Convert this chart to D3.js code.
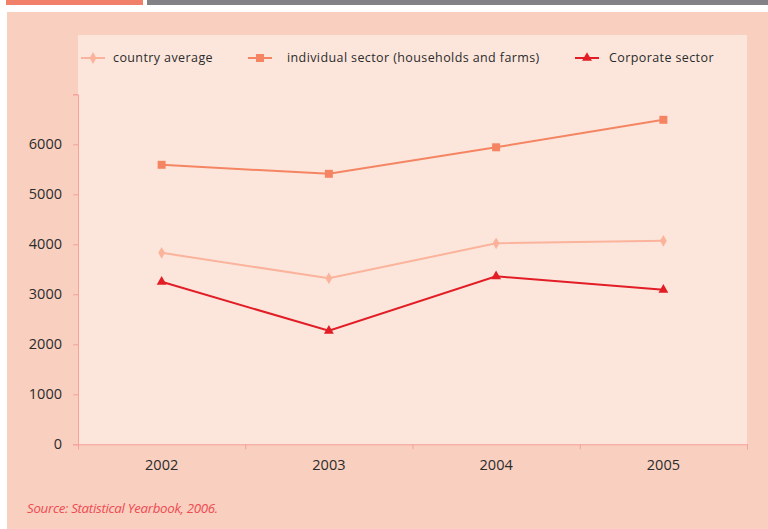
<!DOCTYPE html>
<html>
<head>
<meta charset="utf-8">
<script src="https://cdn.jsdelivr.net/npm/d3@7"></script>
<style>
  body { margin: 0; background: #fff; }
  text { font-family: "Open Sans", "Noto Sans", sans-serif; fill: #2b2b2b; }
</style>
</head>
<body>
<div id="chart"></div>
<script>
// chart values
var years = ["2002", "2003", "2004", "2005"];
var countryAverage = [3830, 3320, 4020, 4070];
var individualSector = [5590, 5410, 5940, 6490];
var corporateSector = [3250, 2270, 3360, 3090];
var yTicks = [0, 1000, 2000, 3000, 4000, 5000, 6000, 7000];
var seriesNames = ["country average", "individual sector (households and farms)", "Corporate sector"];

var width = 768, height = 529;
var margin = {top: 94.3, right: 21, bottom: 84.7, left: 78};
var w = width - margin.left - margin.right,
    h = height - margin.top - margin.bottom;

var svg = d3.select("#chart")
    .append("svg")
    .attr("width", width)
    .attr("height", height);

// top decoration bars
svg.append("rect").attr("x", 6).attr("y", 0).attr("width", 137).attr("height", 5).attr("fill", "#f08168");
svg.append("rect").attr("x", 147).attr("y", 0).attr("width", 621).attr("height", 5).attr("fill", "#828286");

// outer panel and inner plot background
svg.append("rect").attr("x", 7).attr("y", 12).attr("width", 761).attr("height", 517).attr("fill", "#f9cfbf");
svg.append("rect").attr("x", 78).attr("y", 35).attr("width", 669).attr("height", 409.3).attr("fill", "#fce6dc");

var g = svg.append("g")
    .attr("transform", "translate(" + margin.left + "," + margin.top + ")");

var x = d3.scaleBand().domain(years).range([0, w]);
var xEdge = d3.scaleLinear().domain([0, years.length]).range([0, w]);
var y = d3.scaleLinear().domain([0, 7000]).range([h, 0]);

// y axis
var yAxis = g.append("g")
    .call(d3.axisLeft(y).tickValues(yTicks).tickSize(5).tickPadding(11)
        .tickFormat(function(d) { return d === 7000 ? "" : d; }));
yAxis.selectAll("text").style("font-size", "14.5px");

// x axis: boundary ticks + centred labels
var xAxisTicks = g.append("g")
    .attr("transform", "translate(0," + h + ")")
    .call(d3.axisBottom(xEdge).tickValues(d3.range(years.length + 1)).tickSize(5).tickFormat(""));
var xAxisLabels = g.append("g")
    .attr("transform", "translate(0," + h + ")")
    .call(d3.axisBottom(x).tickSize(0).tickPadding(15));
xAxisLabels.select(".domain").remove();
xAxisLabels.selectAll("text").style("font-size", "14.5px");

svg.selectAll(".domain, .tick line").attr("stroke", "#f5a19b");

var series = [
  {name: seriesNames[0], values: countryAverage, color: "#fbb39b", shape: d3.symbolDiamond, size: 40},
  {name: seriesNames[1], values: individualSector, color: "#f58562", shape: d3.symbolSquare, size: 64},
  {name: seriesNames[2], values: corporateSector, color: "#e21d25", shape: d3.symbolTriangle, size: 42}
];

var line = d3.line()
    .x(function(d, i) { return x(years[i]) + x.bandwidth() / 2; })
    .y(function(d) { return y(d); });

series.forEach(function(s) {
  g.append("path")
      .datum(s.values)
      .attr("fill", "none")
      .attr("stroke", s.color)
      .attr("stroke-width", 2)
      .attr("d", line);
  g.selectAll(null)
      .data(s.values)
      .enter().append("path")
      .attr("transform", function(d, i) {
        return "translate(" + (x(years[i]) + x.bandwidth() / 2) + "," + y(d) + ")";
      })
      .attr("d", d3.symbol().type(s.shape).size(s.size))
      .attr("fill", s.color);
});

// legend
var legendX = [81, 248, 575];
var legend = svg.selectAll(".legend")
    .data(series)
    .enter().append("g")
    .attr("class", "legend")
    .attr("transform", function(d, i) { return "translate(" + legendX[i] + ",58)"; });
legend.append("line")
    .attr("x1", 0).attr("x2", 24)
    .attr("stroke", function(d) { return d.color; })
    .attr("stroke-width", 2);
legend.append("path")
    .attr("transform", "translate(12,0)")
    .attr("d", function(d) { return d3.symbol().type(d.shape).size(d.size)(); })
    .attr("fill", function(d) { return d.color; });
legend.append("text")
    .attr("x", function(d, i) { return [32, 39, 34][i]; })
    .attr("dy", "0.35em")
    .style("font-size", "12.5px")
    .style("letter-spacing", "0.4px")
    .text(function(d) { return d.name; });

// source note
svg.append("text")
    .attr("x", 27)
    .attr("y", 513)
    .style("font-size", "13.3px")
    .style("font-style", "italic")
    .style("fill", "#ee4b52")
    .style("letter-spacing", "-0.3px")
    .text("Source: Statistical Yearbook, 2006.");
</script>
</body>
</html>
